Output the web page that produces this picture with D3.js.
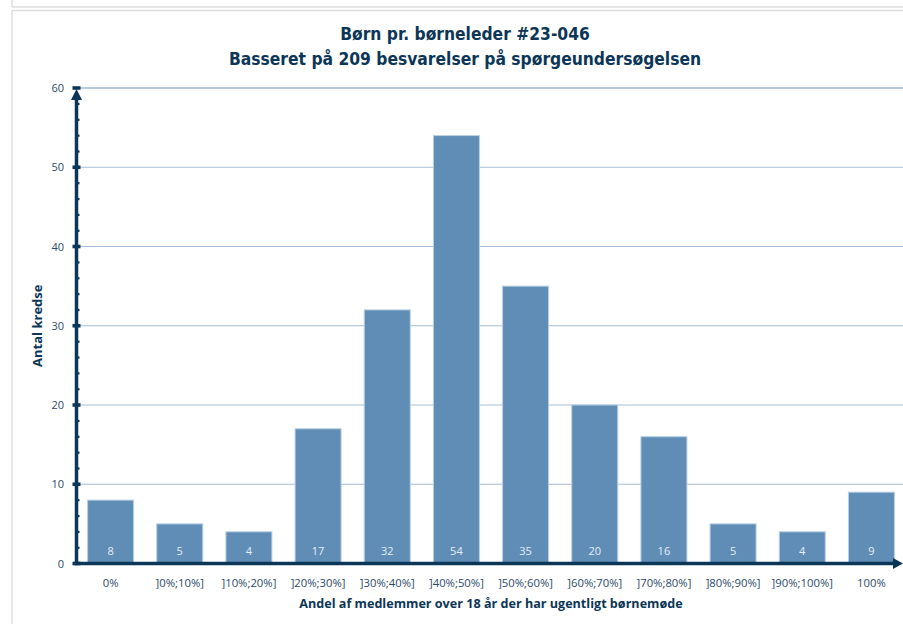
<!DOCTYPE html>
<html><head><meta charset="utf-8">
<script src="https://cdn.jsdelivr.net/npm/d3@7"></script>
<style>
html,body{margin:0;padding:0;background:#fff;overflow:hidden;}
svg{display:block;}
</style></head>
<body>
<svg id="chart" width="903" height="624"></svg>
<script>
const categories = ["0%","]0%;10%]","]10%;20%]","]20%;30%]","]30%;40%]","]40%;50%]","]50%;60%]","]60%;70%]","]70%;80%]","]80%;90%]","]90%;100%]","100%"];
const values = [8,5,4,17,32,54,35,20,16,5,4,9];
const yTicks = [0,10,20,30,40,50,60];
const titleLines = ["Børn pr. børneleder #23-046","Basseret på 209 besvarelser på spørgeundersøgelsen"];
const xTitle = "Andel af medlemmer over 18 år der har ugentligt børnemøde";
const yTitle = "Antal kredse";

const navy = "#0c3657";
const svg = d3.select("#chart");

// card borders
svg.append("line").attr("x1",12).attr("x2",903).attr("y1",7).attr("y2",7).attr("stroke","#dedede").attr("stroke-width",1.5);
svg.append("line").attr("x1",12).attr("x2",12).attr("y1",0).attr("y2",7).attr("stroke","#dedede").attr("stroke-width",1.5);
svg.append("line").attr("x1",12).attr("x2",903).attr("y1",10.5).attr("y2",10.5).attr("stroke","#dedede").attr("stroke-width",1.5);
svg.append("line").attr("x1",12).attr("x2",12).attr("y1",10.5).attr("y2",624).attr("stroke","#dedede").attr("stroke-width",1.5);

const x = d3.scaleBand().domain(categories).range([76,906]).paddingInner(0.335).paddingOuter(0.1675);
const y = d3.scaleLinear().domain([0,60]).range([563.5,88]);

// titles
svg.selectAll("text.title").data(titleLines).join("text").attr("class","title")
  .attr("x",465).attr("y",(d,i)=>40+i*25).attr("text-anchor","middle")
  .attr("font-family","'DejaVu Sans Condensed','DejaVu Sans',sans-serif").attr("font-weight","bold")
  .attr("font-size",17.3).attr("fill",navy).text(d=>d);

// gridlines
svg.append("g").selectAll("line").data(yTicks.filter(d=>d>0)).join("line")
  .attr("x1",76).attr("x2",903).attr("y1",d=>y(d)).attr("y2",d=>y(d))
  .attr("stroke",d=>d===60?"#6e98c4":"#a6bdd8").attr("stroke-width",1.2);

// bars
svg.append("g").selectAll("rect").data(values).join("rect")
  .attr("x",(d,i)=>x(categories[i])).attr("width",x.bandwidth())
  .attr("y",d=>y(d)).attr("height",d=>y(0)-y(d))
  .attr("fill","#5f8db5").attr("stroke","#b9cfe5").attr("stroke-width",1);

// value labels
svg.append("g").selectAll("text").data(values).join("text")
  .attr("x",(d,i)=>x(categories[i])+x.bandwidth()/2).attr("y",y(0)-9)
  .attr("text-anchor","middle").attr("font-family","'Open Sans',sans-serif").attr("font-size",11)
  .attr("fill","#e6edf5").text(d=>d);

// y axis
const yAxis = d3.axisLeft(y).tickValues(yTicks).tickSize(0).tickPadding(12);
const gy = svg.append("g").attr("transform","translate(76,0)").call(yAxis);
gy.select(".domain").remove();
gy.selectAll("text").attr("font-family","'Open Sans',sans-serif").attr("font-size",11).attr("fill","#2c4a68");

// minor ticks
const minor = d3.range(2,60,2).filter(d=>d%10!==0);
svg.append("g").selectAll("rect").data(minor).join("rect")
  .attr("x",77).attr("y",d=>y(d)-1).attr("width",2.5).attr("height",2.2).attr("fill",navy);
// major tick squares
svg.append("g").selectAll("rect").data(yTicks).join("rect")
  .attr("x",72.5).attr("y",d=>y(d)-1.8).attr("width",8).attr("height",3.6).attr("fill",navy);

// y axis line
svg.append("line").attr("x1",76.5).attr("x2",76.5).attr("y1",y(0)+1.5).attr("y2",y(60)+6).attr("stroke",navy).attr("stroke-width",3.5);
// arrow up
svg.append("path").attr("d",`M76.5,${y(60)+1} L71,${y(60)+12} L82,${y(60)+12} Z`).attr("fill",navy);

// x axis line
svg.append("line").attr("x1",74.5).attr("x2",897).attr("y1",y(0)).attr("y2",y(0)).attr("stroke",navy).attr("stroke-width",3.5);
svg.append("path").attr("d",`M903,${y(0)} L893,${y(0)-5.5} L893,${y(0)+5.5} Z`).attr("fill",navy);

// x tick labels
const xAxis = d3.axisBottom(x).tickSize(0).tickPadding(15);
const gx = svg.append("g").attr("transform",`translate(0,${y(0)})`).call(xAxis);
gx.select(".domain").remove();
gx.selectAll("text").attr("font-family","'Open Sans',sans-serif").attr("font-size",11.3).attr("fill","#2c4a68");

// axis titles
svg.append("text").attr("x",491).attr("y",608).attr("text-anchor","middle")
  .attr("font-family","'Open Sans',sans-serif").attr("font-weight","bold").attr("font-size",12.6).attr("fill",navy).text(xTitle);
svg.append("text").attr("transform",`translate(42,${(y(0)+y(60))/2}) rotate(-90)`).attr("text-anchor","middle")
  .attr("font-family","'Open Sans',sans-serif").attr("font-weight","bold").attr("font-size",13).attr("fill",navy).text(yTitle);
</script>
</body></html>
